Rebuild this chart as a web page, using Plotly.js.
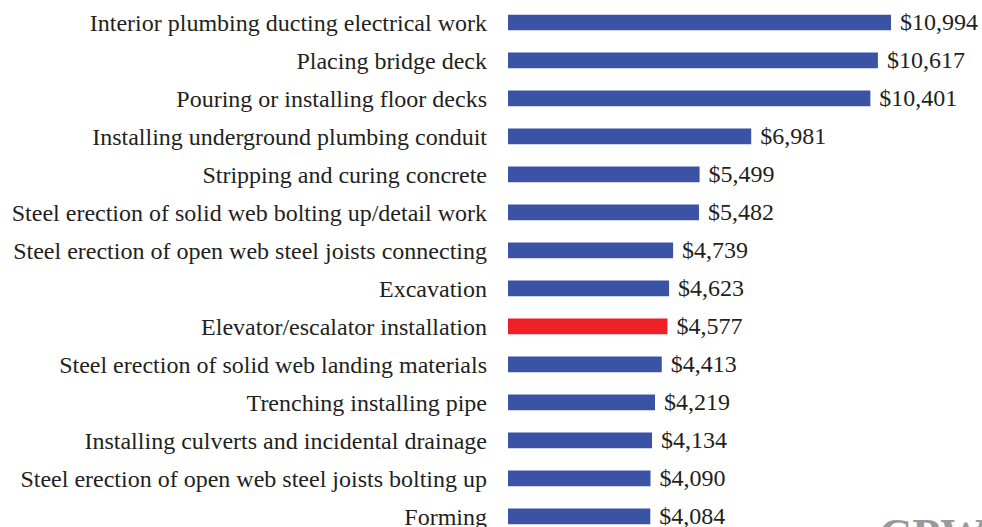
<!DOCTYPE html>
<html><head><meta charset="utf-8">
<script src="https://cdn.plot.ly/plotly-3.0.1.min.js"></script>
<style>html,body{margin:0;padding:0;background:#fff;}#chart{width:982px;height:527px;}</style>
</head><body><div id="chart"></div>
<script>
const categories = [
  "Interior plumbing ducting electrical work",
  "Placing bridge deck",
  "Pouring or installing floor decks",
  "Installing underground plumbing conduit",
  "Stripping and curing concrete",
  "Steel erection of solid web bolting up/detail work",
  "Steel erection of open web steel joists connecting",
  "Excavation",
  "Elevator/escalator installation",
  "Steel erection of solid web landing materials",
  "Trenching installing pipe",
  "Installing culverts and incidental drainage",
  "Steel erection of open web steel joists bolting up",
  "Forming"
];
const values = [10994, 10617, 10401, 6981, 5499, 5482, 4739, 4623, 4577, 4413, 4219, 4134, 4090, 4084];
const valueLabels = ["$10,994","$10,617","$10,401","$6,981","$5,499","$5,482","$4,739","$4,623","$4,577","$4,413","$4,219","$4,134","$4,090","$4,084"];
const highlight = "Elevator/escalator installation";
const colors = categories.map(c => c === highlight ? "#EE1F25" : "#3A53A4");

const trace = {
  type: "bar", orientation: "h",
  x: values, y: categories,
  text: valueLabels, texttemplate: "\u00A0%{text}", textposition: "outside", cliponaxis: false,
  constraintext: "none",
  textfont: {family: "Liberation Serif", size: 24, color: "#231F20"},
  marker: {color: colors},
  hoverinfo: "none"
};
const layout = {
  width: 982, height: 527,
  margin: {l: 508, r: 0, t: 0, b: 0, pad: 0},
  paper_bgcolor: "#fff", plot_bgcolor: "#fff",
  showlegend: false,
  bargap: 0.59,
  font: {family: "Liberation Serif", size: 24, color: "#231F20"},
  xaxis: {range: [0, 13605], visible: false, fixedrange: true},
  yaxis: {type: "category", range: [13.28, -0.59], showgrid: false, zeroline: false, showline: false,
          ticks: "", ticklabelstandoff: 20, tickfont: {family: "Liberation Serif", size: 24, color: "#231F20"}},
  annotations: [{
    xref: "paper", yref: "paper", x: 0.7785, y: 0.036, xanchor: "left", yanchor: "top",
    text: "<b>CPW</b>", showarrow: false,
    font: {family: "Liberation Serif", size: 46, color: "#9A9A9A"}
  }]
};
Plotly.newPlot("chart", [trace], layout, {displayModeBar: false, staticPlot: true});
</script></body></html>
